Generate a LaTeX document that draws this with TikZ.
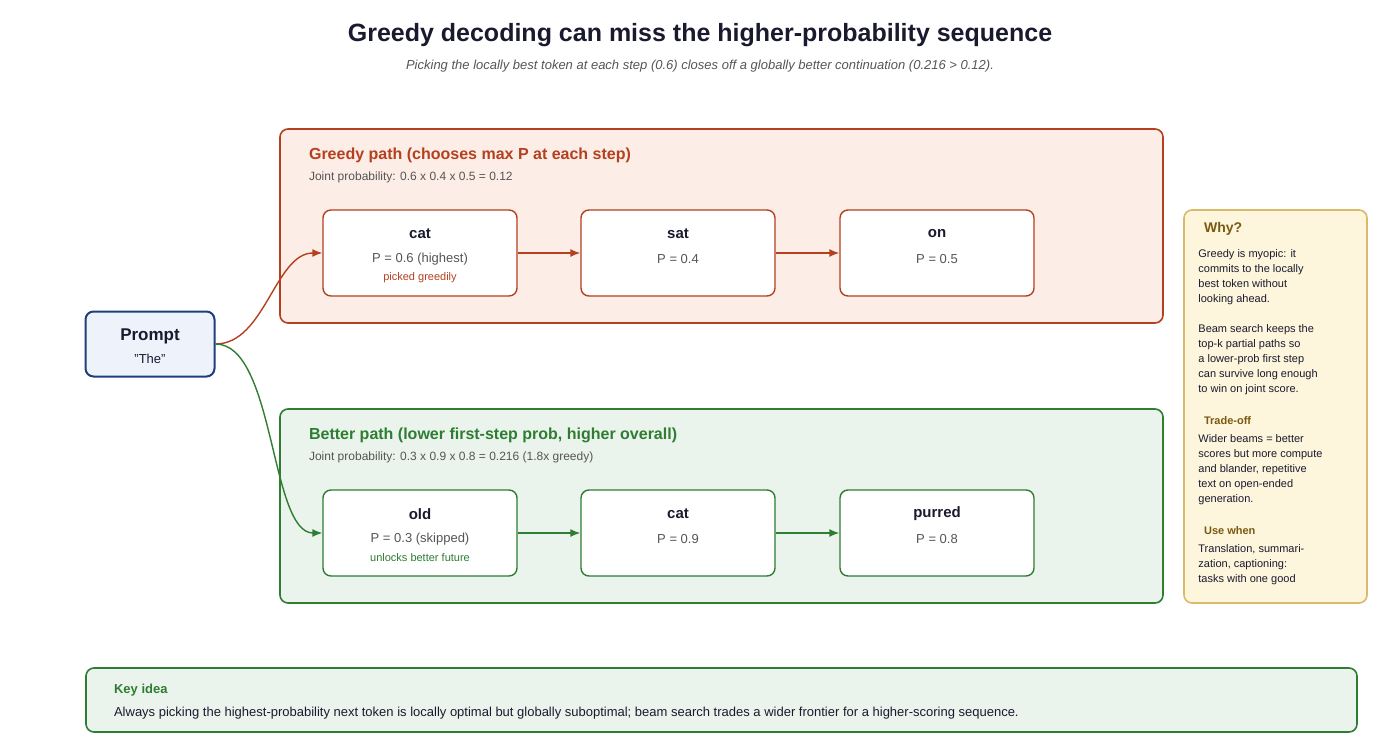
\documentclass[tikz,border=0pt]{standalone}
\usepackage{fontspec}
\setmainfont{Liberation Sans}
\usetikzlibrary{positioning,arrows.meta}
\definecolor{redline}{HTML}{B5401F}
\definecolor{redfill}{HTML}{FCEDE6}
\definecolor{greenline}{HTML}{2E7D32}
\definecolor{greenfill}{HTML}{EAF4EC}
\definecolor{blueline}{HTML}{1F3F7A}
\definecolor{bluefill}{HTML}{EEF3FB}
\definecolor{goldline}{HTML}{D9B96A}
\definecolor{goldfill}{HTML}{FDF5DC}
\definecolor{goldtext}{HTML}{7A5A10}
\definecolor{inktext}{HTML}{1A1A2E}
\definecolor{greytext}{HTML}{555555}
\begin{document}
\begin{tikzpicture}
	[
	x = 0.5pt,
	y = -0.5pt,
	panel/.style = {rounded corners = 4pt, line width = 0.8pt},
	token/.style = {draw = #1, fill = white, rounded corners = 4pt, line width = 0.7pt,
		minimum width = 97pt, minimum height = 43pt, inner sep = 0pt},
	word/.style = {font = \fontsize{7.5}{9}\selectfont\bfseries, text = inktext},
	prob/.style = {font = \fontsize{6.5}{8}\selectfont, text = greytext},
	note/.style = {font = \fontsize{5.5}{7}\selectfont, text = #1},
	step/.style = {-{Latex[length = 5pt, width = 4pt]}, line width = 0.7pt, draw = #1},
	head/.style = {font = \fontsize{8}{10}\selectfont\bfseries, text = #1, anchor = west},
	joint/.style = {font = \fontsize{6}{8}\selectfont, text = greytext, anchor = west}]
	
	\useasboundingbox (0,0) rectangle (1400,754);
	
	%% Title
	\node[font = \fontsize{12.5}{15}\selectfont\bfseries, text = inktext] (title) at (700,35) {Greedy decoding can miss the higher-probability sequence};
	\node[font = \fontsize{6.5}{8}\selectfont\itshape, text = greytext] (subtitle) at (700,66) {Picking the locally best token at each step (0.6) closes off a globally better continuation (0.216 > 0.12).};
	
	%% Panels
	\draw[panel, draw = redline, fill = redfill] (280,129) rectangle (1163,323);
	\node[head = redline] (greedyhead) at (302,155) {Greedy path (chooses max P at each step)};
	\node[joint] (greedyjoint) at (302,177) {Joint probability: 0.6 x 0.4 x 0.5 = 0.12};
	
	\draw[panel, draw = greenline, fill = greenfill] (280,409) rectangle (1163,603);
	\node[head = greenline] (betterhead) at (302,435) {Better path (lower first-step prob, higher overall)};
	\node[joint] (betterjoint) at (302,457) {Joint probability: 0.3 x 0.9 x 0.8 = 0.216 (1.8x greedy)};
	
	%% Greedy tokens
	\node[token = redline] (cat) at (420,253) {};
	\node[word] at (420,234) {cat};
	\node[prob] at (420,259) {P = 0.6 (highest)};
	\node[note = redline] at (420,278) {picked greedily};
	
	\node[token = redline] (sat) at (678,253) {};
	\node[word] at (678,234) {sat};
	\node[prob] at (678,259) {P = 0.4};
	
	\node[token = redline] (on) at (937,253) {};
	\node[word] at (937,234) {on};
	\node[prob] at (937,259) {P = 0.5};
	
	%% Better tokens
	\node[token = greenline] (old) at (420,533) {};
	\node[word] at (420,514) {old};
	\node[prob] at (420,539) {P = 0.3 (skipped)};
	\node[note = greenline] at (420,558) {unlocks better future};
	
	\node[token = greenline] (cat2) at (678,533) {};
	\node[word] at (678,514) {cat};
	\node[prob] at (678,539) {P = 0.9};
	
	\node[token = greenline] (purred) at (937,533) {};
	\node[word] at (937,514) {purred};
	\node[prob] at (937,539) {P = 0.8};
	
	%% Prompt
	\node[draw = blueline, fill = bluefill, rounded corners = 4pt, line width = 1pt,
		minimum width = 64.5pt, minimum height = 32.5pt] (prompt) at (150,344) {};
	\node[font = \fontsize{8.5}{10}\selectfont\bfseries, text = inktext] at (150,336) {Prompt};
	\node[prob, text = inktext] at (150,359) {"The"};
	
	%% Connectors
	\draw[step = redline] (prompt.east) .. controls (265,344) and (275,253) .. (cat.west);
	\draw[step = greenline] (prompt.east) .. controls (275,344) and (270,533) .. (old.west);
	\draw[step = redline] (cat) -- (sat);
	\draw[step = redline] (sat) -- (on);
	\draw[step = greenline] (old) -- (cat2);
	\draw[step = greenline] (cat2) -- (purred);
	
	%% Why panel
	\draw[panel, draw = goldline, fill = goldfill] (1184,210) rectangle (1367,603);
	\node[font = \fontsize{7}{9}\selectfont\bfseries, text = goldtext, anchor = west] (why) at (1197,229) {Why?};
	\node[anchor = north west, align = left, inner sep = 0pt, text = inktext,
		font = \fontsize{5.5}{7.5}\selectfont] (whytext) at (1198,249)
		{Greedy is myopic: it\\commits to the locally\\best token without\\looking ahead.\\[7.5pt]
		Beam search keeps the\\top-k partial paths so\\a lower-prob first step\\can survive long enough\\to win on joint score.};
	\node[font = \fontsize{5.5}{7}\selectfont\bfseries, text = goldtext, anchor = west] (tradeoff) at (1197,421) {Trade-off};
	\node[anchor = north west, align = left, inner sep = 0pt, text = inktext,
		font = \fontsize{5.5}{7.5}\selectfont] (tradetext) at (1198,434)
		{Wider beams = better\\scores but more compute\\and blander, repetitive\\text on open-ended\\generation.};
	\node[font = \fontsize{5.5}{7}\selectfont\bfseries, text = goldtext, anchor = west] (usewhen) at (1197,531) {Use when};
	\node[anchor = north west, align = left, inner sep = 0pt, text = inktext,
		font = \fontsize{5.5}{7.5}\selectfont] (usetext) at (1198,544)
		{Translation, summari-\\zation, captioning:\\tasks with one good};
	
	%% Key idea
	\draw[panel, draw = greenline, fill = greenfill] (86,668) rectangle (1357,732);
	\node[font = \fontsize{6.5}{8}\selectfont\bfseries, text = greenline, anchor = west] (keyidea) at (107,690) {Key idea};
	\node[font = \fontsize{6.5}{8}\selectfont, text = inktext, anchor = west] (keytext) at (107,713) {Always picking the highest-probability next token is locally optimal but globally suboptimal; beam search trades a wider frontier for a higher-scoring sequence.};
\end{tikzpicture}
\end{document}
